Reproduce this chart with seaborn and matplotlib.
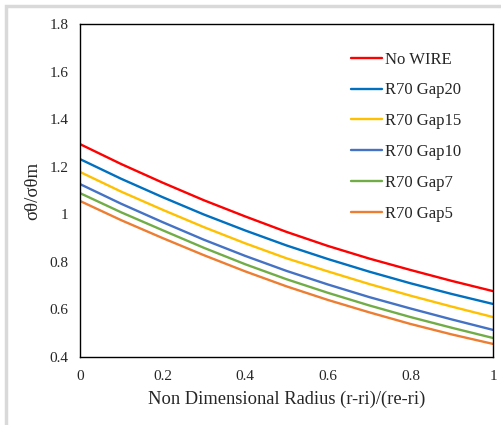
import numpy as np
import pandas as pd
import seaborn as sns
import matplotlib.pyplot as plt
from matplotlib.patches import Rectangle

x_vals = [0.0, 0.1, 0.2, 0.3, 0.4, 0.5, 0.6, 0.7, 0.8, 0.9, 1.0]
no_wire = [1.295, 1.211, 1.133, 1.059, 0.991, 0.926, 0.867, 0.814, 0.766, 0.720, 0.677]
gap20 = [1.232, 1.149, 1.072, 0.999, 0.932, 0.869, 0.812, 0.759, 0.710, 0.665, 0.623]
gap15 = [1.178, 1.095, 1.019, 0.946, 0.878, 0.815, 0.760, 0.707, 0.658, 0.612, 0.568]
gap10 = [1.127, 1.044, 0.967, 0.893, 0.825, 0.762, 0.705, 0.652, 0.604, 0.558, 0.514]
gap7 = [1.089, 1.008, 0.933, 0.859, 0.790, 0.727, 0.670, 0.617, 0.568, 0.523, 0.480]
gap5 = [1.056, 0.975, 0.900, 0.828, 0.760, 0.697, 0.640, 0.588, 0.539, 0.495, 0.455]
series_names = ["No WIRE", "R70 Gap20", "R70 Gap15", "R70 Gap10", "R70 Gap7", "R70 Gap5"]
colors = ["#FF0000", "#0070C0", "#FFC000", "#4472C4", "#70AD47", "#ED7D31"]
x_ticks = [0, 0.2, 0.4, 0.6, 0.8, 1]
y_ticks = [0.4, 0.6, 0.8, 1.0, 1.2, 1.4, 1.6, 1.8]

rows = []
for name, ys in zip(series_names, [no_wire, gap20, gap15, gap10, gap7, gap5]):
    for xv, yv in zip(x_vals, ys):
        rows.append({"x": xv, "y": yv, "series": name})
df = pd.DataFrame(rows)

sns.set_theme(style="white")
plt.rcParams['font.family'] = ['Liberation Serif', 'DejaVu Serif']

fig = plt.figure(figsize=(5.01, 4.25), dpi=100)
W, H = 501, 425
# outer chart-area border
fig.patches.append(Rectangle((6 / W, -0.1), 1.2, (H - 6) / H + 0.1, transform=fig.transFigure,
                             fill=False, edgecolor="#D9D9D9", linewidth=2.5))
ax = fig.add_axes([80 / W, 1 - 357 / H, (493 - 80) / W, (357 - 24) / H])

sns.lineplot(data=df, x="x", y="y", hue="series", hue_order=series_names,
             palette=colors, linewidth=1.7, ax=ax, legend=True)

ax.set_xlim(0, 1)
ax.set_ylim(0.4, 1.8)
ax.set_xticks(x_ticks)
ax.set_yticks(y_ticks)
ax.set_xticklabels([f"{v:g}" for v in x_ticks], fontsize=11)
ax.set_yticklabels([f"{v:g}" for v in y_ticks], fontsize=11)
ax.tick_params(axis="both", length=0)
ax.tick_params(axis="y", pad=8.5)
ax.tick_params(axis="x", pad=9)
for s in ax.spines.values():
    s.set_visible(True)
    s.set_color("black")
    s.set_linewidth(1.0)

ax.set_xlabel("Non Dimensional Radius (r-ri)/(re-ri)", fontsize=13.3, labelpad=6)
ax.set_ylabel("σθ/σθm", fontsize=13.5, labelpad=6)

leg = ax.legend(frameon=False, loc="upper left", bbox_to_anchor=(0.62, 0.962),
                fontsize=12, handlelength=1.85, handletextpad=0.2, labelspacing=0.89)
for line in leg.get_lines():
    line.set_linewidth(1.7)

fig.savefig("out.png", dpi=100)
